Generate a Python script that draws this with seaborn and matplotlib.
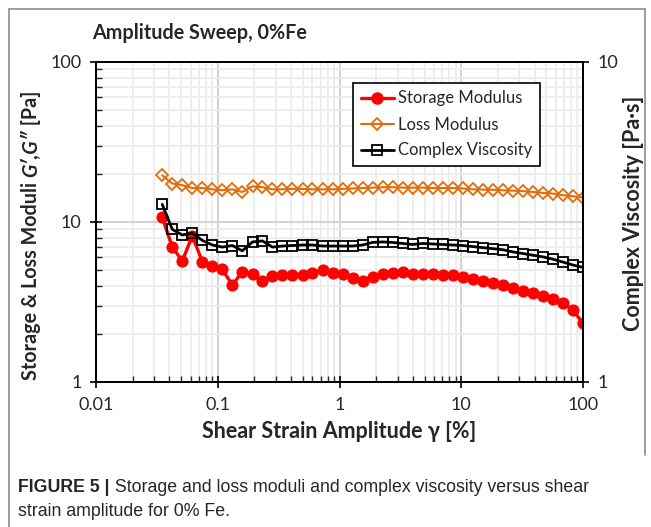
import numpy as np
import pandas as pd
import matplotlib
matplotlib.use("Agg")
import matplotlib.pyplot as plt
import seaborn as sns
from matplotlib.ticker import LogLocator, NullFormatter, FixedLocator, FixedFormatter
from matplotlib.lines import Line2D

# ---------------- data ----------------
strain = [0.0350, 0.0423, 0.0511, 0.0618, 0.0747, 0.0903, 0.109, 0.132, 0.159, 0.193,
          0.233, 0.281, 0.340, 0.411, 0.497, 0.600, 0.726, 0.877, 1.06, 1.28,
          1.55, 1.87, 2.26, 2.73, 3.30, 3.99, 4.83, 5.83, 7.05, 8.52,
          10.3, 12.4, 15.0, 18.2, 22.0, 26.5, 32.1, 38.8, 46.9, 56.6,
          68.5, 82.8, 100.0]
storage = [10.7, 7.0, 5.7, 8.2, 5.65, 5.3, 5.05, 4.03, 4.9, 4.7,
           4.3, 4.57, 4.66, 4.68, 4.66, 4.77, 5.0, 4.77, 4.7, 4.45,
           4.3, 4.55, 4.7, 4.83, 4.85, 4.72, 4.73, 4.72, 4.68, 4.64,
           4.53, 4.38, 4.26, 4.18, 4.02, 3.85, 3.68, 3.61, 3.44, 3.28,
           3.13, 2.81, 2.33]
loss = [19.6, 17.4, 17.0, 16.3, 16.3, 16.0, 15.8, 16.0, 15.4, 16.7,
        16.5, 16.0, 16.0, 16.1, 16.1, 16.0, 16.0, 16.0, 16.1, 16.2,
        16.3, 16.4, 16.5, 16.5, 16.4, 16.4, 16.4, 16.3, 16.3, 16.3,
        16.2, 16.0, 15.95, 15.9, 15.8, 15.7, 15.6, 15.4, 15.2, 15.05,
        14.7, 14.5, 14.2]
viscosity = [3.59, 3.0, 2.88, 2.92, 2.77, 2.68, 2.64, 2.67, 2.57, 2.74,
             2.76, 2.64, 2.66, 2.67, 2.68, 2.68, 2.66, 2.66, 2.66, 2.66,
             2.68, 2.73, 2.74, 2.73, 2.71, 2.69, 2.71, 2.70, 2.69, 2.68,
             2.67, 2.65, 2.63, 2.61, 2.59, 2.55, 2.52, 2.49, 2.46, 2.42,
             2.37, 2.32, 2.28]

x_ticks = [0.01, 0.1, 1, 10, 100]
x_ticklabels = ["0.01", "0.1", "1", "10", "100"]
yl_ticks = [1, 10, 100]
yl_ticklabels = ["1", "10", "100"]
yr_ticks = [1, 10]
yr_ticklabels = ["1", "10"]

title = "Amplitude Sweep, 0%Fe"
xlabel = "Shear Strain Amplitude \u03b3 [%]"
ylabel_parts = ["Storage & Loss Moduli ", "G\u2032,G\u2033", " [Pa]"]
ylabel_right = "Complex Viscosity [Pa\u00b7s]"
labels = ["Storage Modulus", "Loss Modulus", "Complex Viscosity"]
caption_bold = "FIGURE 5 |"
caption_1 = " Storage and loss moduli and complex viscosity versus shear"
caption_2 = "strain amplitude for 0% Fe."

df = pd.DataFrame({"strain": strain, "storage": storage, "loss": loss, "viscosity": viscosity})

# ---------------- style ----------------
sns.set_theme(style="white")
FONT = ["Lato", "DejaVu Sans"]
plt.rcParams["font.family"] = FONT

RED = "#ff0000"
ORANGE = "#e36c0a"
BLACK = "#000000"

W, H = 651, 527
fig = plt.figure(figsize=(W / 100, H / 100), dpi=100)
fig.patch.set_facecolor("white")

L, R, T, B = 96, 583, 62, 382
ax = fig.add_axes([L / W, 1 - B / H, (R - L) / W, (B - T) / H])
ax.set_xscale("log")
ax.set_yscale("log")
ax2 = ax.twinx()
ax2.set_yscale("log")

sns.lineplot(data=df, x="strain", y="storage", ax=ax, color=RED, marker="o",
             markersize=8, markeredgecolor=RED, linewidth=2.4, label=labels[0], legend=False)
sns.lineplot(data=df, x="strain", y="loss", ax=ax, color=ORANGE, marker="D",
             markersize=6, markerfacecolor="none", markeredgecolor=ORANGE,
             markeredgewidth=1.3, linewidth=1.5, label=labels[1], legend=False)
sns.lineplot(data=df, x="strain", y="viscosity", ax=ax2, color=BLACK, marker="s",
             markersize=7, markerfacecolor="none", markeredgecolor=BLACK,
             markeredgewidth=1.3, linewidth=2.0, label=labels[2], legend=False)

ax.set_xlim(0.01, 100)
ax.set_ylim(1, 100)
ax2.set_ylim(1, 10)

# grid
ax.set_axisbelow(True)
ax.grid(which="major", color="#d4d4d4", linewidth=1.5)
ax.grid(which="minor", color="#ececec", linewidth=1.3)
ax.xaxis.set_minor_locator(LogLocator(base=10, subs=np.arange(2, 10)))
ax.yaxis.set_minor_locator(LogLocator(base=10, subs=np.arange(2, 10)))
ax.xaxis.set_minor_formatter(NullFormatter())
ax.yaxis.set_minor_formatter(NullFormatter())
ax.xaxis.set_major_locator(FixedLocator(x_ticks))
ax.xaxis.set_major_formatter(FixedFormatter(x_ticklabels))
ax.yaxis.set_major_locator(FixedLocator(yl_ticks))
ax.yaxis.set_major_formatter(FixedFormatter(yl_ticklabels))
ax2.yaxis.set_major_locator(FixedLocator(yr_ticks))
ax2.yaxis.set_major_formatter(FixedFormatter(yr_ticklabels))
ax2.yaxis.set_minor_locator(FixedLocator([]))

for a in (ax, ax2):
    for s in a.spines.values():
        s.set_color("black")
        s.set_linewidth(1.3)
        s.set_visible(True)

ax.tick_params(which="major", direction="inout", length=9, width=1.2, color="black",
               labelsize=13, pad=6, bottom=True, left=True, top=False, right=False)
ax.tick_params(axis="x", which="minor", direction="in", length=4, width=1.0, bottom=True, top=False)
ax.tick_params(axis="y", which="minor", direction="in", length=4, width=1.0, left=True, right=False)
ax2.tick_params(which="major", direction="inout", length=9, width=1.2, color="black",
                labelsize=13, pad=6, right=True, left=False)
ax2.tick_params(which="minor", right=False, left=False)
ax.set_xlabel("")
ax.set_ylabel("")
ax2.set_ylabel("")

# x label / right label
fig.text((L + R) / 2 / W, 1 - 432 / H, xlabel, ha="center", va="center",
         fontsize=15.5, fontweight="bold", family=FONT)
fig.text(633 / W, 1 - 213 / H, ylabel_right, ha="center", va="center", rotation=90,
         fontsize=15.5, fontweight="bold", family=FONT)

# left label built from pieces (bold + bold italic)
fig.canvas.draw()
renderer = fig.canvas.get_renderer()
styles = ["normal", "italic", "normal"]
pieces = []
for txt, st in zip(ylabel_parts, styles):
    t = fig.text(0, 0, txt, rotation=90, rotation_mode="anchor", ha="left", va="center",
                 fontsize=14.2, fontweight="bold", style=st, family=FONT)
    pieces.append(t)
heights = [p.get_window_extent(renderer).height for p in pieces]
total = sum(heights)
center_px = H - 235
ystart = center_px - total / 2
xl = 31 / W
for p, h in zip(pieces, heights):
    p.set_position((xl, ystart / H))
    ystart += h

# title
fig.text(92 / W, 1 - 33 / H, title, ha="left", va="center", fontsize=14.2,
         fontweight="bold", family=FONT)

# legend
handles = [
    Line2D([], [], color=RED, marker="o", markersize=8, linewidth=2.4),
    Line2D([], [], color=ORANGE, marker="D", markersize=6, markerfacecolor="none",
           markeredgewidth=1.3, linewidth=1.5),
    Line2D([], [], color=BLACK, marker="s", markersize=7, markerfacecolor="none",
           markeredgewidth=1.3, linewidth=2.0),
]
leg = ax2.legend(handles, labels, loc="upper left",
                 bbox_to_anchor=((353 - L) / (R - L), (B - 83) / (B - T)),
                 frameon=True, fancybox=False, edgecolor="black", framealpha=1,
                 fontsize=12, handlelength=2.0, handletextpad=0.25,
                 borderpad=0.45, labelspacing=0.6, borderaxespad=0)
leg.get_frame().set_linewidth(1.2)

# figure border lines (gray frame)
gray = "#8c8c8c"
fig.add_artist(Line2D([9 / W, 645 / W], [1 - 9 / H, 1 - 9 / H], color=gray, lw=1.2,
                      transform=fig.transFigure))
fig.add_artist(Line2D([9 / W, 9 / W], [0, 1 - 9 / H], color=gray, lw=1.2,
                      transform=fig.transFigure))
fig.add_artist(Line2D([645 / W, 645 / W], [1 - 455 / H, 1 - 9 / H], color=gray, lw=1.2,
                      transform=fig.transFigure))

# caption
cap_font = ["Liberation Sans", "DejaVu Sans"]
t1 = fig.text(18 / W, 1 - 487 / H, caption_bold, ha="left", va="center", fontsize=12.8,
              fontweight="bold", family=cap_font)
fig.canvas.draw()
bb = t1.get_window_extent(renderer)
fig.text(bb.x1 / W, 1 - 487 / H, caption_1, ha="left", va="center", fontsize=12.8,
         family=cap_font)
fig.text(18 / W, 1 - 511 / H, caption_2, ha="left", va="center", fontsize=12.8,
         family=cap_font)

fig.savefig("out.png", dpi=100, facecolor="white")
